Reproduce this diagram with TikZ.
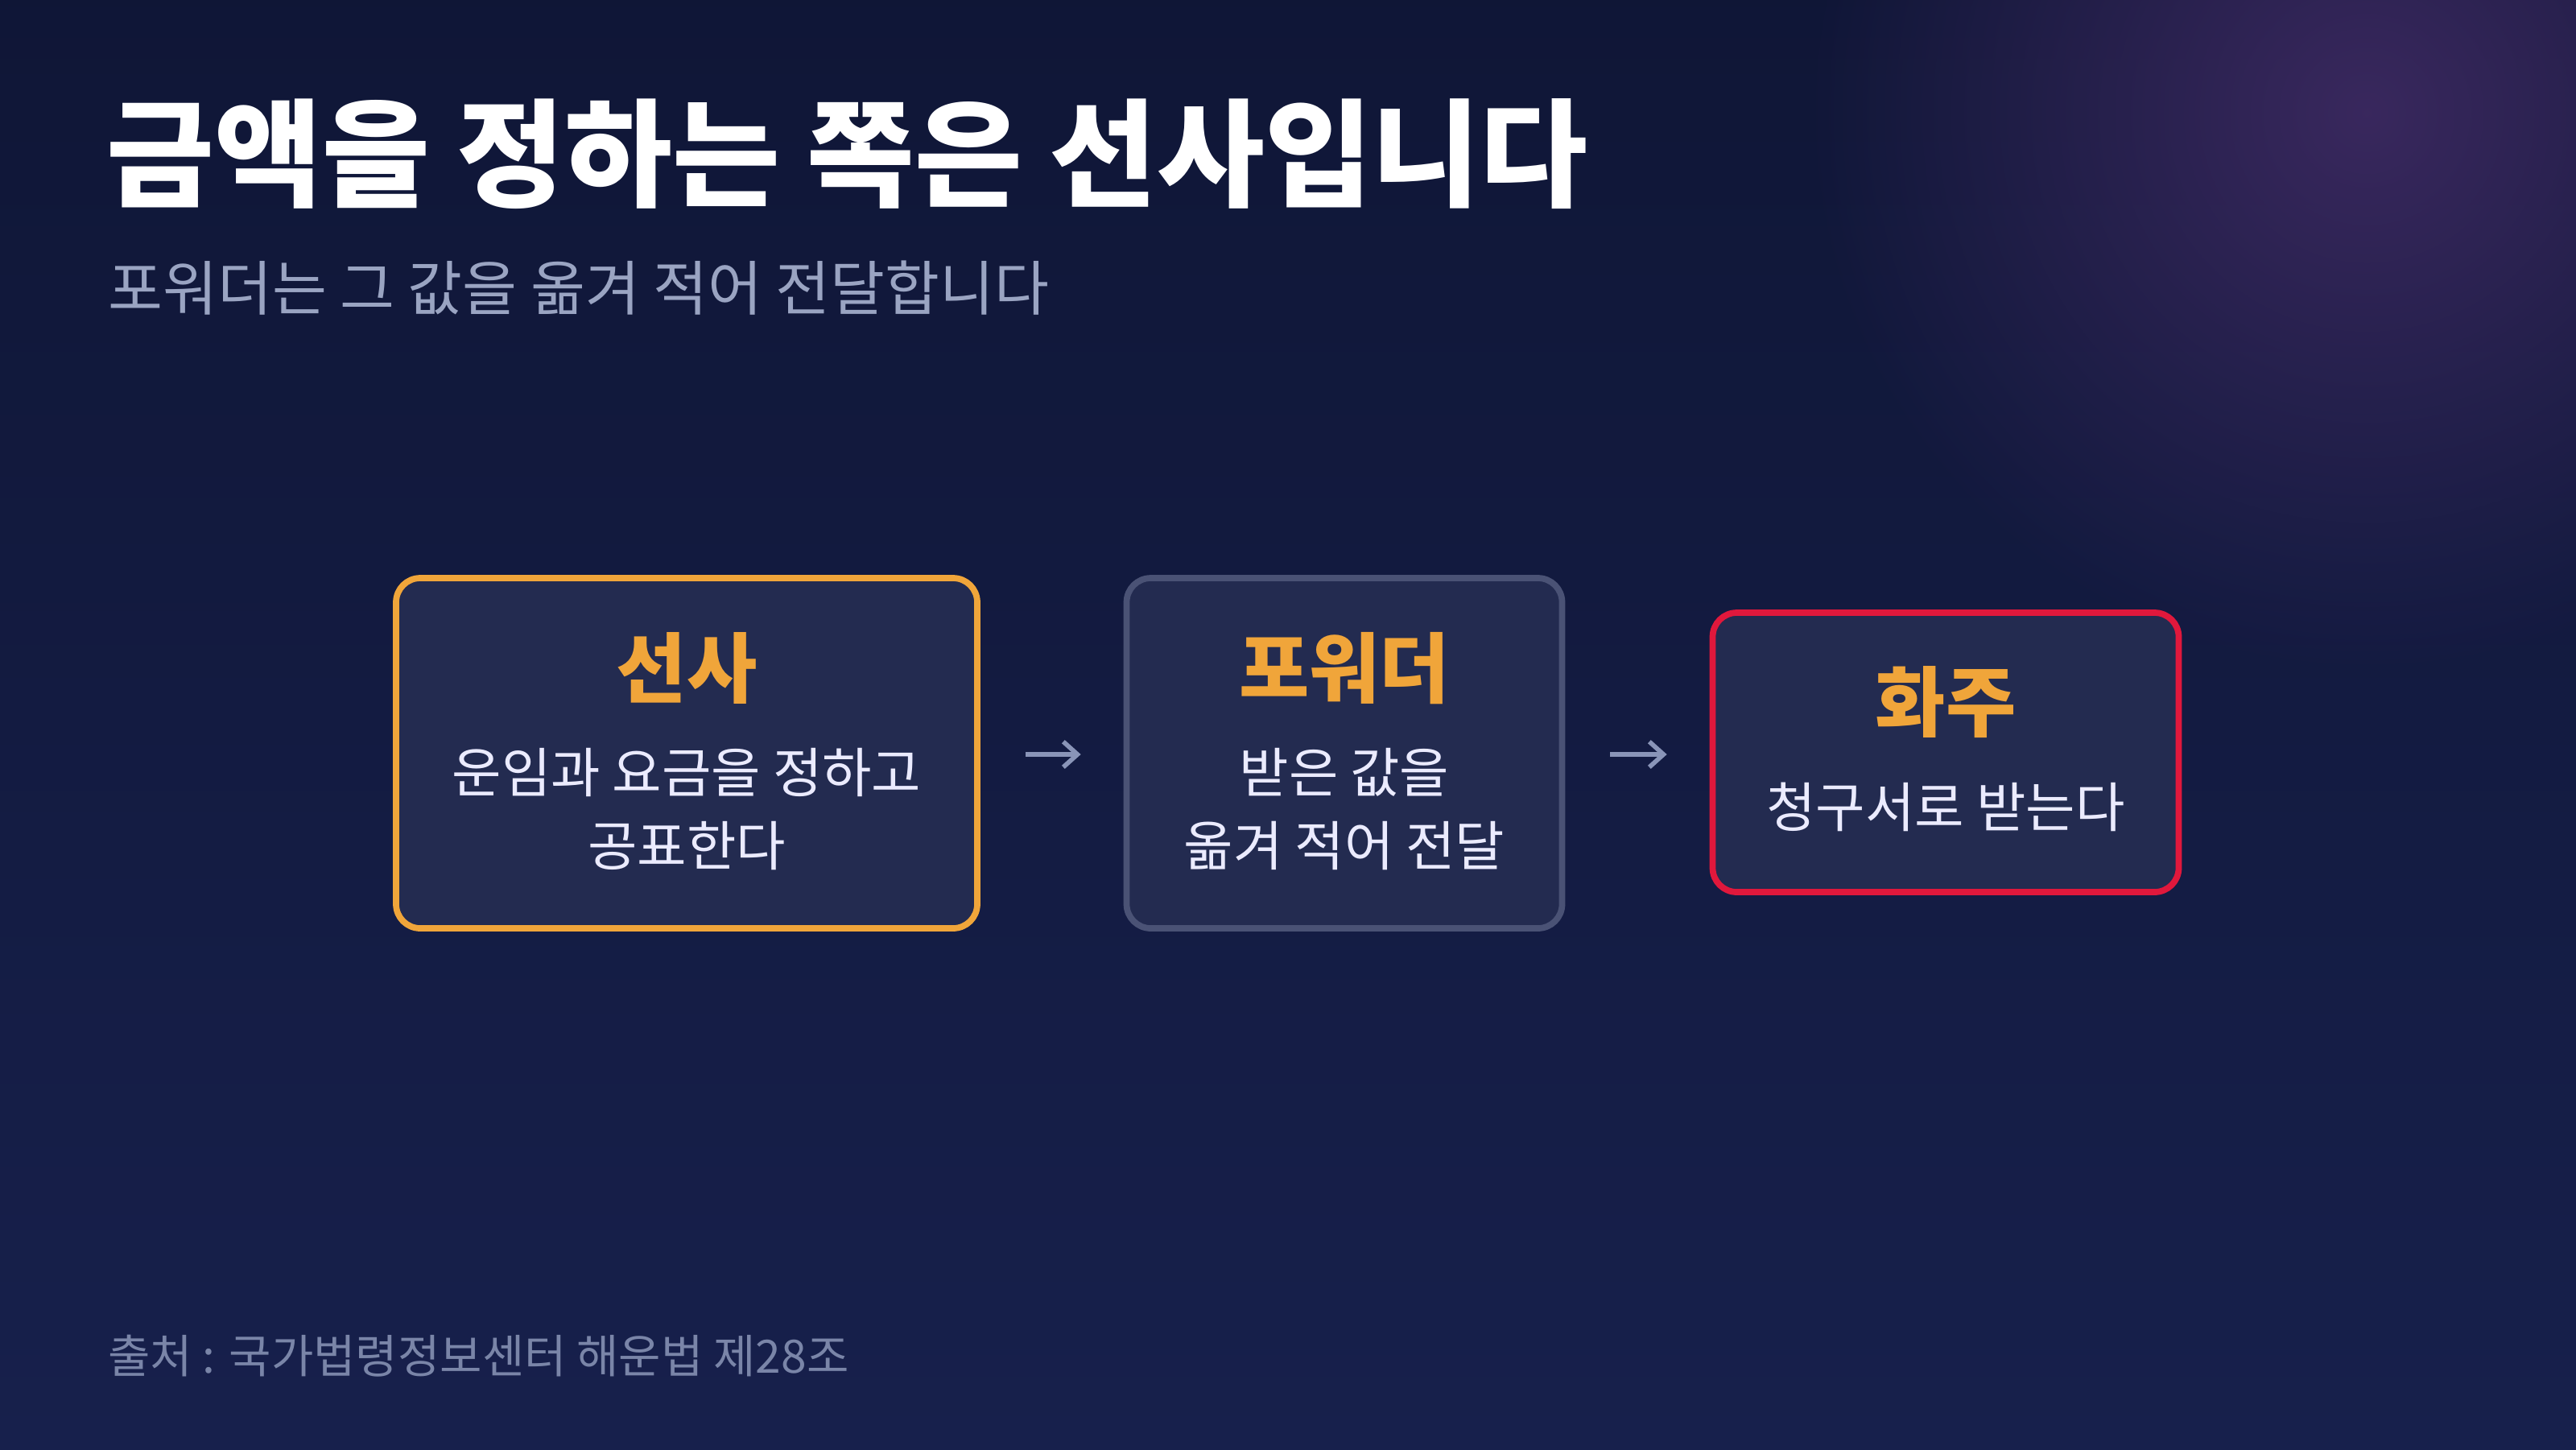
\documentclass[tikz,border=0pt]{standalone}
\usepackage{fontspec}
\setmainfont{Noto Sans CJK KR}
\usetikzlibrary{arrows.meta,fadings}
\tikzfading[name=glowfade, inner color=transparent!0, outer color=transparent!100]
\definecolor{bg}{HTML}{121A40}
\definecolor{bgb}{HTML}{17204C}
\definecolor{glow}{HTML}{3E2A62}
\definecolor{boxf}{HTML}{232B50}
\definecolor{org}{HTML}{F0A53A}
\definecolor{gborder}{HTML}{4A5275}
\definecolor{redb}{HTML}{E0183C}
\definecolor{sub}{HTML}{9AA4C2}
\definecolor{foot}{HTML}{7A85A8}
\definecolor{arr}{HTML}{8A95B8}
\tikzset{
 box/.style={draw, line width=2.2pt, rounded corners=0.3cm, fill=boxf, inner sep=0pt},
 ttl/.style={text=org, font=\bfseries\fontsize{27}{30}\selectfont},
 bdy/.style={text=white!92!blue, font=\fontsize{19}{26}\selectfont, align=center},
 conn/.style={draw=arr, line width=1.6pt, -{Straight Barb[length=5pt,width=9pt]}, shorten <=0.56cm, shorten >=0.53cm}
}
\begin{document}
\begin{tikzpicture}
\useasboundingbox (0,0) rectangle (32,-18);
\shade[top color=bg!85!black, bottom color=bgb] (0,0) rectangle (32,-18);
\begin{scope}
\clip (0,0) rectangle (32,-18);
\fill[glow, path fading=glowfade, fill opacity=0.9] (29.4,-1.4) circle (7);
\end{scope}
\node[anchor=base west, text=white, font=\bfseries\fontsize{41.4}{46}\selectfont] (title) at (1.2,-2.45) {금액을 정하는 쪽은 선사입니다};
\node[anchor=base west, text=sub, font=\fontsize{21}{24}\selectfont] (subt) at (1.22,-3.85) {포워더는 그 값을 옮겨 적어 전달합니다};

\node[box, draw=org, minimum width=7.22cm, minimum height=4.35cm] (b1) at (8.53,-9.355) {};
\node[box, draw=gborder, minimum width=5.41cm, minimum height=4.35cm] (b2) at (16.7,-9.355) {};
\node[box, draw=redb, minimum width=5.79cm, minimum height=3.47cm] (b3) at (24.17,-9.345) {};

\node[ttl] (t1) at (8.53,-8.3) {선사};
\node[bdy] (d1) at (8.53,-10.05) {운임과 요금을 정하고\\공표한다};
\node[ttl] (t2) at (16.7,-8.3) {포워더};
\node[bdy] (d2) at (16.7,-10.05) {받은 값을\\옮겨 적어 전달};
\node[ttl] (t3) at (24.17,-8.72) {화주};
\node[bdy] (d3) at (24.17,-10.02) {청구서로 받는다};

\draw[conn] (b1.east |- 0,-9.37) -- (b2.west |- 0,-9.37);
\draw[conn] (b2.east |- 0,-9.37) -- (b3.west |- 0,-9.37);

\node[anchor=base west, text=foot, font=\fontsize{16.2}{18}\selectfont] (src) at (1.22,-17.05) {출처 : 국가법령정보센터 해운법 제28조};
\end{tikzpicture}
\end{document}
